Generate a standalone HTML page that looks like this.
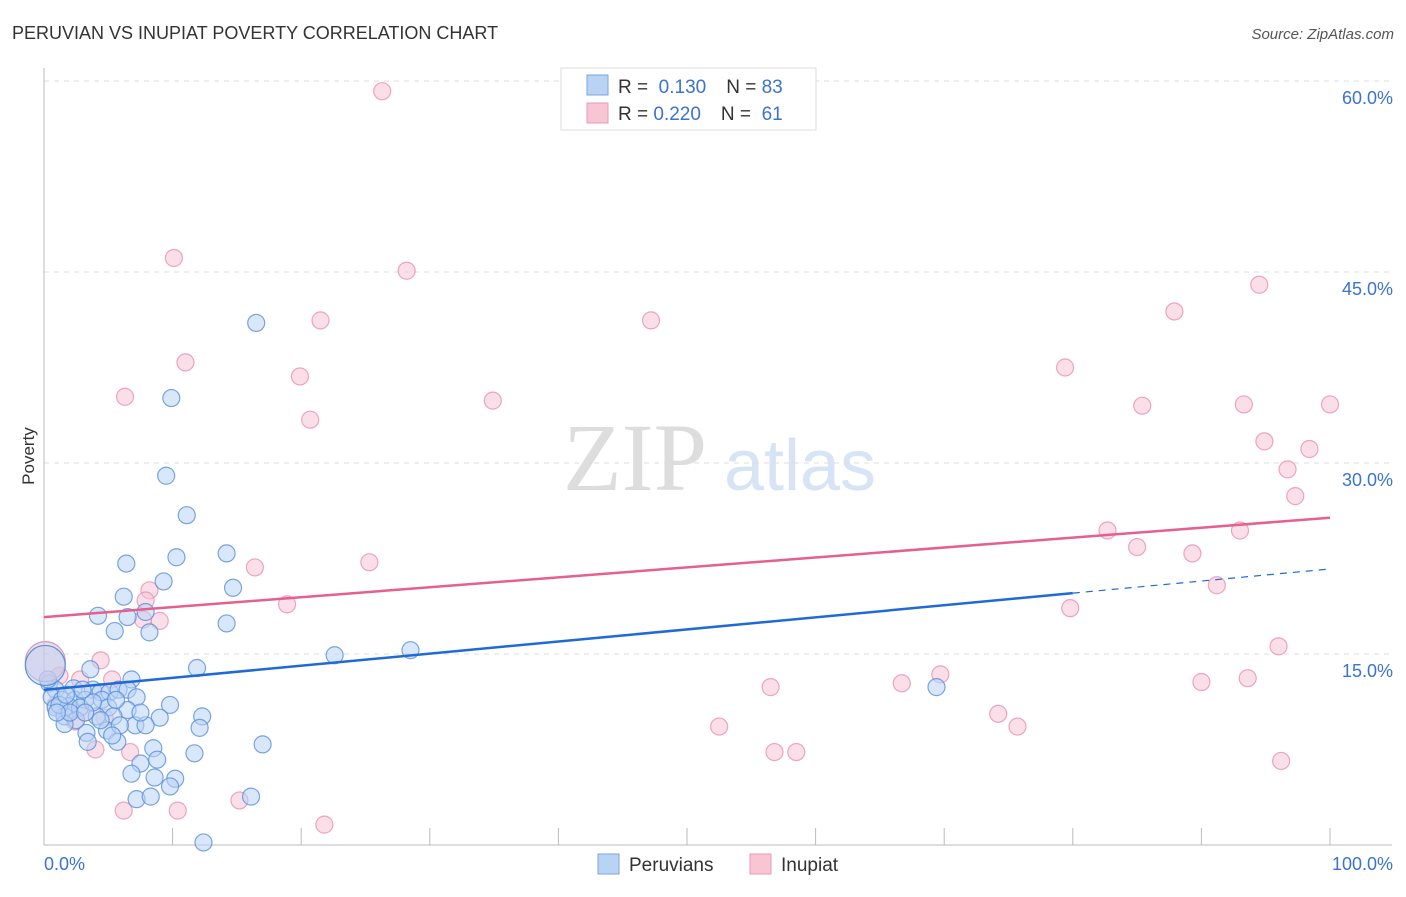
<!DOCTYPE html>
<html><head><meta charset="utf-8">
<style>
body{margin:0;background:#fff;font-family:"Liberation Sans",sans-serif;}
svg text{font-family:"Liberation Sans",sans-serif;}
</style></head>
<body>
<svg id="chart" width="1406" height="892" viewBox="0 0 1406 892" xmlns="http://www.w3.org/2000/svg">
<text x="12" y="39" font-size="18" fill="#333">PERUVIAN VS INUPIAT POVERTY CORRELATION CHART</text>
<text x="1394" y="39" font-size="15" fill="#555" text-anchor="end" font-style="italic">Source: ZipAtlas.com</text>
<text x="34" y="456" font-size="17" fill="#333" text-anchor="middle" transform="rotate(-90 34 456)">Poverty</text>
<g>
<text x="635" y="490" font-size="96" fill="#ddd" font-family="Liberation Serif" text-anchor="middle" style="font-family:'Liberation Serif',serif">ZIP</text>
<text x="800" y="490" font-size="72" fill="#d6e4f5" text-anchor="middle">atlas</text>
</g>
<g id="grid"></g>
<g id="axes"></g>
<g id="points"></g>
<g id="trends"></g>
<g>
<rect x="561" y="68" width="255" height="62" fill="#fff" stroke="#ddd"/>
<rect x="587" y="75" width="21" height="20" fill="#b9d3f5" stroke="#7aa6e0"/>
<rect x="587" y="103" width="21" height="20" fill="#f8c5d5" stroke="#e99ab4"/>
<text x="618" y="93" font-size="19" fill="#333">R = <tspan fill="#3a73d0">&#160;0.130</tspan><tspan dx="20">N = </tspan><tspan fill="#3a73d0">83</tspan></text>
<text x="618" y="120" font-size="19" fill="#333">R = <tspan fill="#3a73d0">0.220</tspan><tspan dx="20">N = </tspan><tspan fill="#3a73d0">&#160;61</tspan></text>
</g>
<g>
<rect x="598" y="854" width="21" height="20" fill="#b9d3f5" stroke="#7aa6e0"/>
<text x="629" y="871" font-size="19" fill="#333">Peruvians</text>
<rect x="750" y="854" width="21" height="20" fill="#f8c5d5" stroke="#e99ab4"/>
<text x="781" y="871" font-size="19" fill="#333">Inupiat</text>
</g>
</svg>
<script>
const yTicks=[15,30,45,60];
const yTickLabels=["15.0%","30.0%","45.0%","60.0%"];
const xTicks=[10,20,30,40,50,60,70,80,90,100];
const blueX=[16.5,9.9,9.5,11.1,6.4,10.3,14.2,9.3,14.7,6.2,4.2,6.5,7.9,5.5,8.2,14.2,22.6,28.5,69.4,3.6,11.9,6.8,0.4,0.9,2.3,3.8,4.4,5.1,5.8,6.5,0.6,1.4,2.4,3.2,4.5,7.2,0.9,1.9,2.8,5.0,6.5,9.8,1.6,2.5,4.1,5.4,7.1,9.0,12.3,1.6,3.3,4.9,5.9,7.9,12.1,3.4,5.7,8.5,11.7,17.0,7.5,8.8,6.8,8.6,10.2,9.8,7.2,8.3,16.1,12.4,0.3,1.2,2.0,3.8,3.0,5.6,7.5,1.0,4.4,3.2,1.7,5.3];
const blueY=[41.0,35.1,29.0,25.9,22.1,22.6,22.9,20.7,20.2,19.5,18.0,17.9,18.3,16.8,16.7,17.4,14.9,15.3,12.4,13.8,13.9,13.0,12.7,12.2,12.3,12.2,12.0,12.0,12.2,12.2,11.6,11.4,11.4,11.4,11.4,11.6,10.8,10.9,10.8,10.8,10.6,11.0,10.1,9.8,10.1,10.1,9.4,10.0,10.1,9.5,8.8,9.0,9.4,9.4,9.2,8.1,8.1,7.6,7.2,7.9,6.4,6.7,5.6,5.3,5.2,4.6,3.6,3.8,3.8,0.2,13.0,11.0,10.4,11.2,12.2,11.4,10.4,10.4,9.8,10.4,11.8,8.6];
const pinkX=[26.3,10.1,28.2,21.5,47.2,11.0,19.9,6.3,34.9,20.7,94.5,87.9,79.4,85.4,93.3,100,94.9,98.4,96.7,97.3,82.7,93.0,85.0,89.3,91.2,25.3,16.4,8.2,7.9,18.9,9.0,7.7,79.8,96.0,1.2,4.4,2.8,5.3,69.7,66.7,56.5,90.0,93.6,52.5,74.2,75.7,4.7,2.4,4.0,6.7,56.8,58.5,96.2,6.2,10.4,15.2,21.8,0.9,2.0,3.2];
const pinkY=[59.2,46.1,45.1,41.2,41.2,37.9,36.8,35.2,34.9,33.4,44.0,41.9,37.5,34.5,34.6,34.6,31.7,31.1,29.5,27.4,24.7,24.7,23.4,22.9,20.4,22.2,21.8,20.0,19.2,18.9,17.6,17.7,18.6,15.6,13.3,14.5,13.0,13.0,13.4,12.7,12.4,12.8,13.1,9.3,10.3,9.3,10.0,9.7,7.5,7.3,7.3,7.3,6.6,2.7,2.7,3.5,1.6,11.0,10.6,10.4];
const bigX=[0.1,0.1], bigY=[14.4,14.1];
const blueTrend=[12.18,21.68], pinkTrend=[17.9,25.7], blueSolidEnd=80;

const NS="http://www.w3.org/2000/svg";
const X0=44,X1=1330,Y0=845,Y60=81;
const sx=v=>X0+(X1-X0)*v/100;
const sy=v=>Y0-(Y0-Y60)*v/60;
function mk(tag,attrs,parent){const e=document.createElementNS(NS,tag);for(const k in attrs)e.setAttribute(k,attrs[k]);parent.appendChild(e);return e;}
const grid=document.getElementById('grid'),axes=document.getElementById('axes'),pts=document.getElementById('points'),tr=document.getElementById('trends');
yTicks.forEach((t,i)=>{
 const l=mk('line',{x1:X0,x2:1392,y1:sy(t),y2:sy(t),stroke:'#ddd','stroke-dasharray':'5,5'},grid);
 
 
 const tx=mk('text',{x:1393,y:sy(t)+23,'font-size':18,fill:'#3a73d0','text-anchor':'end'},axes);
 tx.textContent=yTickLabels[i];
 
 
});
let a=mk('line',{x1:X0,x2:X0,y1:68,y2:Y0,stroke:'#bbb'},axes);


a=mk('line',{x1:X0,x2:1392,y1:Y0,y2:Y0,stroke:'#bbb'},axes);


xTicks.forEach(t=>{
 const l=mk('line',{x1:sx(t),x2:sx(t),y1:Y0-17,y2:Y0,stroke:'#bbb'},axes);
 
 
});
let t0=mk('text',{x:44,y:870,'font-size':18,fill:'#3a73d0'},axes);t0.textContent='0.0%';


let t1=mk('text',{x:1393,y:870,'font-size':18,fill:'#3a73d0','text-anchor':'end'},axes);t1.textContent='100.0%';


function dots(xs,ys,fill,stroke,name,r){xs.forEach((x,i)=>{
 const c=mk('circle',{cx:sx(x),cy:sy(ys[i]),r:r,fill:fill,'fill-opacity':0.55,stroke:stroke,'stroke-width':1.2,'stroke-opacity':0.8},pts);
 
 
});}
dots(pinkX,pinkY,'#f8c5d5','#e991ae','inupiat-point',8.5);
dots(blueX,blueY,'#b9d3f5','#5a8fdc','peruvian-point',8.5);
bigX.forEach((x,i)=>{
 const c=mk('circle',{cx:sx(x),cy:sy(bigY[i]),r:20,fill:i?'#b9d3f5':'#e3b7cf','fill-opacity':0.5,stroke:i?'#5a8fdc':'#d59ab9','stroke-width':1.2},pts);
 
 
});
const bEnd=blueTrend[0]+(blueTrend[1]-blueTrend[0])*blueSolidEnd/100;
let l=mk('line',{x1:sx(0),y1:sy(blueTrend[0]),x2:sx(blueSolidEnd),y2:sy(bEnd),stroke:'#1f6ad6','stroke-width':2.5},tr);


l=mk('line',{x1:sx(blueSolidEnd),y1:sy(bEnd),x2:sx(100),y2:sy(blueTrend[1]),stroke:'#1f6ad6','stroke-width':1.2,'stroke-dasharray':'7,6'},tr);


l=mk('line',{x1:sx(0),y1:sy(pinkTrend[0]),x2:sx(100),y2:sy(pinkTrend[1]),stroke:'#e5608a','stroke-width':2.5},tr);


</script>
</body></html>
